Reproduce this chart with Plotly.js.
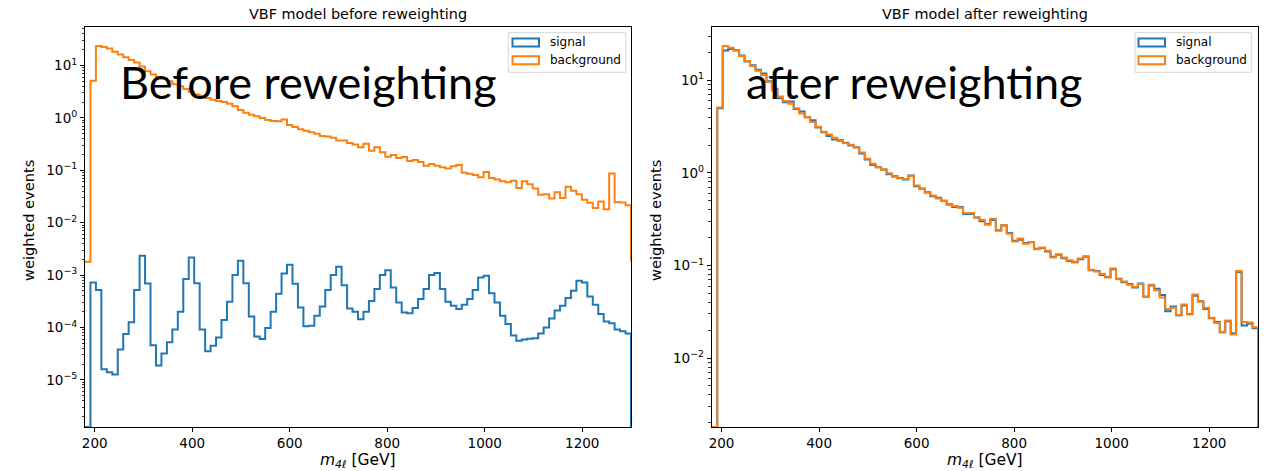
<!DOCTYPE html>
<html><head><meta charset="utf-8">
<script src="https://cdn.plot.ly/plotly-3.0.1.min.js"></script>
<style>html,body{margin:0;padding:0;background:#fff}</style>
</head><body><div id="chart" style="width:1265px;height:471px"></div>
<script>
// ---- data ----
const binStart = 180, binWidth = 11.2, nBins = 100;
const background = [0, 5.1, 23.5, 22.5, 21.0, 18.3, 16.2, 14.3, 12.7, 11.4,
  9.6, 7.8, 6.7, 6.0, 5.6, 5.0, 4.4, 4.0, 3.55, 3.15,
  2.78, 2.6, 2.4, 2.22, 2.1, 2.02, 1.87, 1.66, 1.42, 1.26,
  1.15, 1.08, 0.99, 0.91, 0.87, 0.86, 0.93, 0.73, 0.67, 0.61,
  0.57, 0.53, 0.50, 0.45, 0.44, 0.42, 0.37, 0.37, 0.33, 0.31,
  0.275, 0.32, 0.237, 0.274, 0.22, 0.182, 0.196, 0.172, 0.18, 0.15,
  0.157, 0.144, 0.122, 0.132, 0.122, 0.114, 0.108, 0.119, 0.126, 0.09,
  0.086, 0.081, 0.074, 0.093, 0.071, 0.067, 0.062, 0.059, 0.063, 0.046,
  0.062, 0.054, 0.045, 0.034, 0.035, 0.029, 0.038, 0.0295, 0.0487, 0.0405,
  0.035, 0.0273, 0.024, 0.019, 0.0255, 0.018, 0.087, 0.0245, 0.0243, 0.0215];
const signalBefore = [0, 7.2e-4, 5.2e-4, 1.6e-5, 1.4e-5, 1.26e-5, 3.8e-5, 7.5e-5, 1.26e-4, 5.2e-4,
  2.33e-3, 6.9e-4, 4.6e-5, 1.87e-5, 3.2e-5, 5.2e-5, 9.1e-5, 2.0e-4, 8.4e-4, 2.16e-3,
  7.0e-4, 9.1e-5, 3.5e-5, 4.5e-5, 6.4e-5, 1.39e-4, 3.1e-4, 1.0e-3, 1.87e-3, 7.0e-4,
  1.62e-4, 6.7e-5, 6.0e-5, 9.8e-5, 2.0e-4, 4.4e-4, 1.07e-3, 1.58e-3, 6.8e-4, 2.4e-4,
  1.05e-4, 1.08e-4, 1.68e-4, 2.5e-4, 5.2e-4, 1.0e-3, 1.44e-3, 6.4e-4, 2.3e-4, 2.0e-4,
  1.44e-4, 2.0e-4, 3.2e-4, 5.4e-4, 1.0e-3, 1.24e-3, 5.8e-4, 3.0e-4, 1.94e-4, 1.86e-4,
  2.34e-4, 3.5e-4, 5.4e-4, 1.0e-3, 1.1e-3, 5.4e-4, 3.1e-4, 2.6e-4, 2.25e-4, 2.7e-4,
  3.5e-4, 5.2e-4, 9.0e-4, 9.7e-4, 4.5e-4, 3.0e-4, 1.68e-4, 1.17e-4, 7.0e-5, 5.6e-5,
  5.9e-5, 6.1e-5, 6.2e-5, 7.7e-5, 1.0e-4, 1.49e-4, 2.1e-4, 2.6e-4, 3.65e-4, 5.0e-4,
  7.8e-4, 7.2e-4, 3.9e-4, 2.7e-4, 1.8e-4, 1.3e-4, 1.2e-4, 9.1e-5, 8.5e-5, 7.7e-5];
const signalAfter = [0, 5.0, 21.0, 21.8, 21.2, 18.6, 16.0, 14.6, 13.0, 11.9,
  9.8, 8.1, 6.4, 5.8, 5.9, 4.9, 4.6, 4.0, 3.7, 3.1,
  2.75, 2.5, 2.3, 2.25, 2.12, 1.98, 1.9, 1.62, 1.40, 1.22,
  1.15, 1.09, 0.97, 0.92, 0.88, 0.85, 0.94, 0.72, 0.68, 0.62,
  0.56, 0.54, 0.50, 0.46, 0.43, 0.43, 0.36, 0.36, 0.33, 0.30,
  0.28, 0.31, 0.24, 0.27, 0.225, 0.185, 0.19, 0.175, 0.178, 0.152,
  0.155, 0.142, 0.124, 0.131, 0.12, 0.112, 0.109, 0.117, 0.124, 0.089,
  0.087, 0.079, 0.075, 0.091, 0.072, 0.066, 0.063, 0.058, 0.064, 0.046,
  0.061, 0.056, 0.048, 0.032, 0.036, 0.029, 0.037, 0.030, 0.047, 0.041,
  0.034, 0.027, 0.0245, 0.019, 0.025, 0.0185, 0.085, 0.0225, 0.0235, 0.021];
const xTickVals = [200, 400, 600, 800, 1000, 1200];
const yTickValsLeft = [1e-5, 1e-4, 1e-3, 1e-2, 1e-1, 1, 10];
const yTickTextLeft = ['10<sup>\u22125</sup>','10<sup>\u22124</sup>','10<sup>\u22123</sup>','10<sup>\u22122</sup>','10<sup>\u22121</sup>','10<sup>0</sup>','10<sup>1</sup>'];
const yTickValsRight = [1e-2, 1e-1, 1, 10];
const yTickTextRight = ['10<sup>\u22122</sup>','10<sup>\u22121</sup>','10<sup>0</sup>','10<sup>1</sup>'];
const seriesNames = ['signal', 'background'];
const titles = ['VBF model before reweighting', 'VBF model after reweighting'];
const bigLabels = ['Before reweighting', 'after reweighting'];

// ---- helpers ----
const BLUE = '#1f77b4', ORANGE = '#ff7f0e';
const edges = [];
for (let i = 0; i <= nBins; i++) edges.push(binStart + i * binWidth);
function minPos(arr) { return Math.min(...arr.filter(v => v > 0)); }
function stepXY(vals, base) {
  const xs = [edges[0]], ys = [base];
  for (let i = 0; i < vals.length; i++) {
    xs.push(edges[i]); ys.push(vals[i] > 0 ? vals[i] : base);
  }
  xs.push(edges[vals.length]); ys.push(vals[vals.length - 1] > 0 ? vals[vals.length - 1] : base);
  xs.push(edges[vals.length]); ys.push(base);
  return {x: xs, y: ys};
}
function trace(vals, base, color, xa, ya) {
  const s = stepXY(vals, base);
  return {x: s.x, y: s.y, type: 'scatter', mode: 'lines', xaxis: xa, yaxis: ya,
    line: {shape: 'hv', width: 2, color: color}, hoverinfo: 'skip', showlegend: false};
}
function minorVals(lo, hi) {
  const out = [];
  for (let d = lo; d <= hi; d++) for (let k = 2; k <= 9; k++) out.push(k * Math.pow(10, d));
  return out;
}

const baseSigL = minPos(signalBefore) / 10;
const baseBkg = minPos(background) / 10;
const baseRight = Math.min(minPos(background), minPos(signalAfter)) / 10;
const maxL = Math.max(...background, ...signalBefore);
const maxR = Math.max(...background, ...signalAfter);
const loL = Math.log10(baseSigL), hiL = Math.log10(maxL);
const loR = Math.log10(baseRight), hiR = Math.log10(maxR);

const data = [
  trace(signalBefore, baseSigL, BLUE, 'x', 'y'),
  trace(background, baseBkg, ORANGE, 'x', 'y'),
  trace(signalAfter, baseRight, BLUE, 'x2', 'y2'),
  trace(background, baseRight, ORANGE, 'x2', 'y2')
];

// layout geometry in pixels
const W = 1265, H = 471, ML = 85, MR = 7, MT = 27, MB = 44;
const PW = W - ML - MR, PH = H - MT - MB;
const P = x => (x - ML) / PW, Q = y => (H - MB - y) / PH;
const FONT = 'DejaVu Sans, sans-serif';
const TICKSIZE = 13.5;

function xaxis(dom, anchor) {
  return {domain: dom, anchor: anchor, range: [180, 1300], tickmode: 'array', tickvals: xTickVals,
    ticks: 'outside', ticklen: 4, tickwidth: 1, tickcolor: '#000', showgrid: false, zeroline: false,
    showline: true, linecolor: '#000', linewidth: 1, mirror: true,
    tickfont: {family: FONT, size: TICKSIZE, color: '#000'}};
}
function yaxis(anchor, lo, hi, vals, text) {
  return {type: 'log', anchor: anchor, range: [lo, hi + 0.05 * (hi - lo)], tickmode: 'array',
    tickvals: vals, ticktext: text, ticks: 'outside', ticklen: 4, tickwidth: 1, tickcolor: '#000',
    showgrid: false, zeroline: false, showline: true, linecolor: '#000', linewidth: 1, mirror: true,
    tickfont: {family: FONT, size: TICKSIZE, color: '#000'},
    minor: {tickmode: 'array', tickvals: minorVals(Math.floor(lo), Math.ceil(hi)), ticks: 'outside',
      ticklen: 2.5, tickwidth: 0.8, tickcolor: '#000', showgrid: false}};
}

const xL = [0, P(631)], xR = [P(711.8), 1];
const shapes = [], annotations = [];
function legend(bx0, bx1, px0, px1, tx) {
  shapes.push({type: 'rect', xref: 'paper', yref: 'paper', x0: P(bx0), x1: P(bx1), y0: Q(32.7), y1: Q(72.3),
    line: {color: '#d6d6d6', width: 1}, fillcolor: 'rgba(255,255,255,0.8)', layer: 'above'});
  const rows = [[38.5, 46.5, BLUE], [56.3, 64.3, ORANGE]];
  rows.forEach((r, i) => {
    shapes.push({type: 'rect', xref: 'paper', yref: 'paper', x0: P(px0), x1: P(px1), y0: Q(r[1]), y1: Q(r[0]),
      line: {color: r[2], width: 2}, fillcolor: 'rgba(0,0,0,0)', layer: 'above'});
    annotations.push({xref: 'paper', yref: 'paper', x: P(tx), y: Q((r[0] + r[1]) / 2), xanchor: 'left', yanchor: 'middle',
      text: seriesNames[i], showarrow: false, font: {family: FONT, size: 12, color: '#000'}});
  });
}
legend(508.3, 625.7, 512.5, 539, 547.5);
legend(1135, 1251.7, 1138.5, 1165, 1173.5);

const centers = [(85 + 631) / 2, (711.8 + 1258) / 2];
titles.forEach((t, i) => annotations.push({xref: 'paper', yref: 'paper', x: P(centers[i]), y: Q(14), xanchor: 'center', yanchor: 'middle',
  text: t, showarrow: false, font: {family: FONT, size: 14.4, color: '#000'}}));
[28, 655].forEach(x => annotations.push({xref: 'paper', yref: 'paper', x: P(x), y: Q(221), xanchor: 'center', yanchor: 'middle',
  textangle: -90, text: 'weighted events', showarrow: false, font: {family: FONT, size: 14.6, color: '#000'}}));
centers.forEach(c => annotations.push({xref: 'paper', yref: 'paper', x: P(c), y: Q(461), xanchor: 'center', yanchor: 'middle',
  text: '<i>m</i><sub><i>4\u2113</i></sub> [GeV]', showarrow: false, font: {family: FONT, size: 15.5, color: '#000'}}));
[[118, bigLabels[0]], [744, bigLabels[1]]].forEach(b => annotations.push({xref: 'paper', yref: 'paper', x: P(b[0]), y: Q(82),
  xanchor: 'left', yanchor: 'middle', text: b[1], showarrow: false, font: {family: 'Lato, sans-serif', size: 45, color: '#000'}}));

const layout = {
  width: W, height: H, margin: {l: ML, r: MR, t: MT, b: MB}, paper_bgcolor: '#fff', plot_bgcolor: '#fff',
  showlegend: false, font: {family: FONT, size: 12, color: '#000'},
  xaxis: xaxis(xL, 'y'), yaxis: yaxis('x', loL, hiL, yTickValsLeft, yTickTextLeft),
  xaxis2: xaxis(xR, 'y2'), yaxis2: yaxis('x2', loR, hiR, yTickValsRight, yTickTextRight),
  shapes: shapes, annotations: annotations
};
Plotly.newPlot('chart', data, layout, {staticPlot: true, displayModeBar: false});
</script></body></html>
